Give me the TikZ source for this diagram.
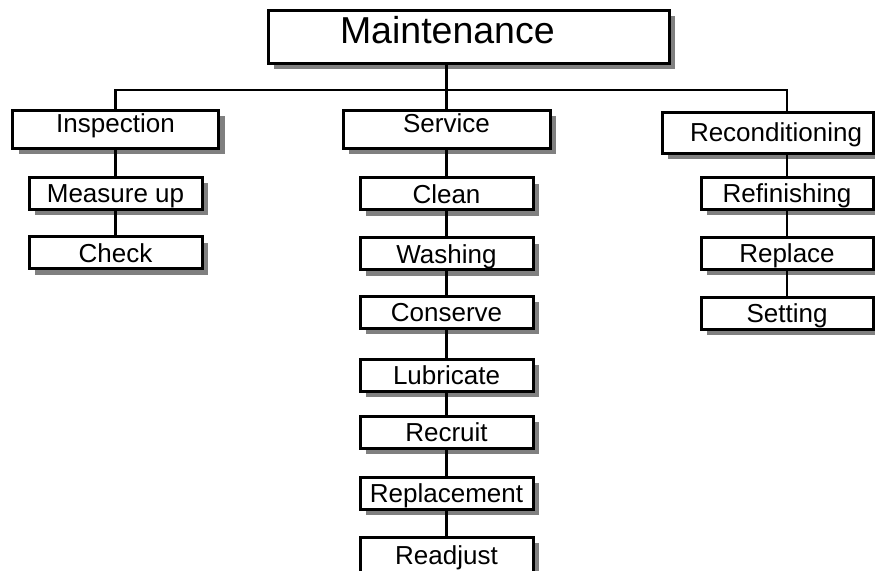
\documentclass[tikz,border=0pt]{standalone}
\usepackage{fontspec}
\setmainfont{Liberation Sans}
\usetikzlibrary{shadows}

\begin{document}
\begin{tikzpicture}[x=1pt, y=-1pt,
        box/.style={draw, line width=3pt, fill=white, inner sep=0pt,
            text height=19pt, text depth=0pt, font=\fontsize{26}{30}\selectfont,
            drop shadow={shadow xshift=6pt, shadow yshift=-6pt, fill=gray, opacity=1}},
        itembox/.style={box, minimum width=173pt, minimum height=32pt},
        headbox/.style={box, minimum height=38pt, text depth=12pt},
        link/.style={line width=2.2pt}]
        \clip (0, 0) rectangle (875, 570);

        \node[box, minimum width=401pt, minimum height=53pt, text height=27pt, text depth=14pt,
            font=\fontsize{37.5}{42}\selectfont, text width=257pt, align=left, inner xsep=72pt]
            at (468.5, 36.5) (main) {Maintenance};

        \node[headbox, minimum width=206pt] at (115.5, 129) (insp) {Inspection};
        \node[headbox, minimum width=207pt] at (446.5, 129) (serv) {Service};
        \node[headbox, minimum width=211pt, minimum height=41pt, text depth=2pt,
            text width=189pt, align=right, inner xsep=11pt] at (767.5, 132.5) (recon) {Reconditioning};

        \node[itembox] at (115.5, 193) (meas) {Measure up};
        \node[itembox] at (115.5, 252.5) (check) {Check};

        \node[itembox] at (446.5, 193.5) (clean) {Clean};
        \node[itembox] at (446.5, 253.5) (wash) {Washing};
        \node[itembox] at (446.5, 312) (cons) {Conserve};
        \node[itembox] at (446.5, 375) (lubr) {Lubricate};
        \node[itembox] at (446.5, 432) (recr) {Recruit};
        \node[itembox] at (446.5, 493) (repl) {Replacement};
        \node[itembox, minimum height=36pt] at (446.5, 555) (readj) {Readjust};

        \node[itembox, minimum width=172pt] at (787, 193) (refin) {Refinishing};
        \node[itembox, minimum width=172pt] at (787, 253) (repla) {Replace};
        \node[itembox, minimum width=172pt] at (787, 313) (sett) {Setting};

        \coordinate (bus) at (446.5, 90);
        \draw[link] (serv.north) -- (serv.north |- main.south);
        \draw[link] (insp.north) |- (bus) -| (refin.north |- recon.north);

        \draw[link] (insp) -- (meas);
        \draw[link] (meas) -- (check);

        \draw[link] (serv) -- (clean);
        \draw[link] (clean) -- (wash);
        \draw[link] (wash) -- (cons);
        \draw[link] (cons) -- (lubr);
        \draw[link] (lubr) -- (recr);
        \draw[link] (recr) -- (repl);
        \draw[link] (repl) -- (readj);

        \draw[link] (refin.north |- recon.south) -- (refin);
        \draw[link] (refin) -- (repla);
        \draw[link] (repla) -- (sett);
    \end{tikzpicture}
\end{document}
